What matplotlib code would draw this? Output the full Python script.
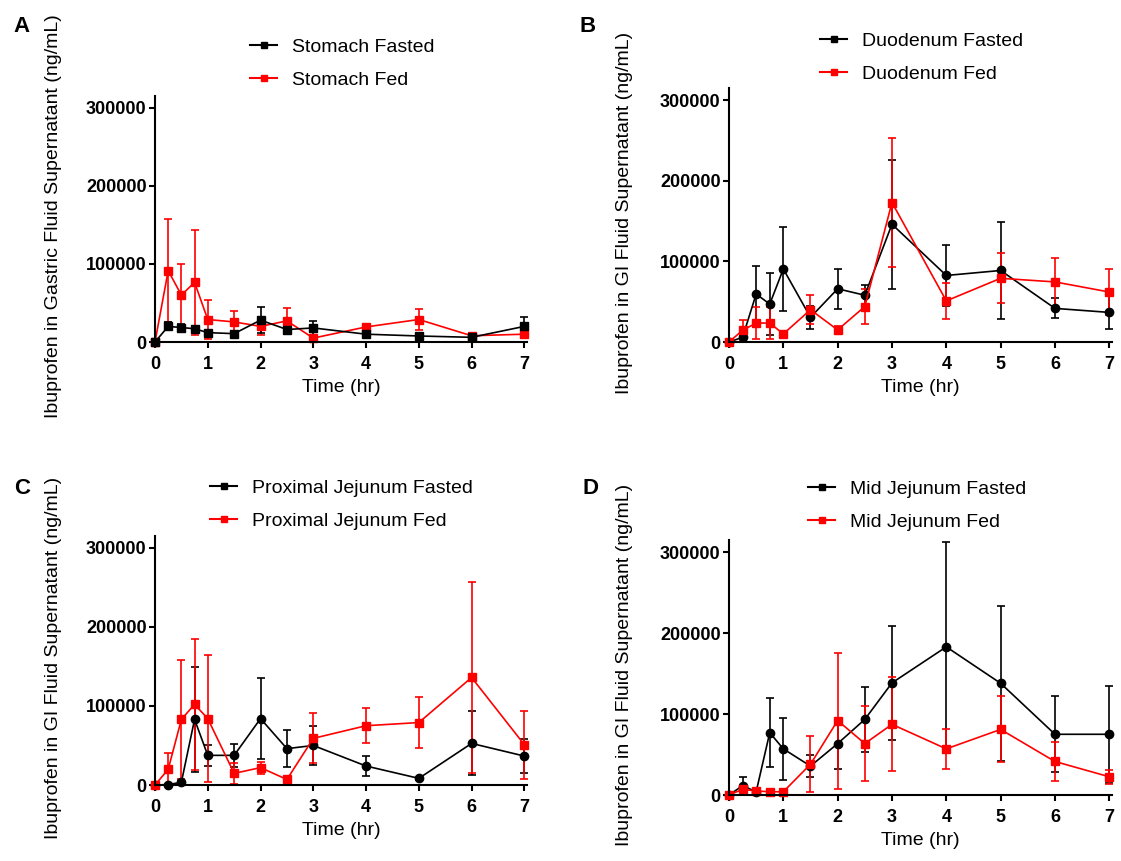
import numpy as np
import matplotlib.pyplot as plt
from matplotlib.lines import Line2D

# sampling times (hr)
times = [0, 0.25, 0.5, 0.75, 1, 1.5, 2, 2.5, 3, 4, 5, 6, 7]

# A - stomach
stomach_fasted = [0, 20000, 18500, 17000, 12000, 10700, 28000, 16000, 18000, 10000, 7700, 6000, 20000]
stomach_fasted_sd = [0, 5000, 4000, 4000, 3000, 2500, 17000, 5000, 9000, 3000, 2000, 2000, 12000]
stomach_fed = [0, 91400, 60000, 76400, 28800, 25700, 20000, 27000, 5000, 19300, 28800, 8000, 10000]
stomach_fed_sd = [0, 66000, 39600, 67400, 25200, 14300, 11400, 16800, 3000, 4300, 13700, 3000, 5000]

# B - duodenum
duod_fasted = [0, 5800, 59500, 47000, 90500, 30600, 66000, 58000, 146000, 82500, 88700, 41700, 36700]
duod_fasted_sd = [0, 2000, 34500, 38500, 51500, 14000, 25000, 13000, 80000, 37500, 60300, 12300, 20700]
duod_fed = [0, 14500, 23500, 23500, 10000, 40000, 15000, 44000, 173000, 51000, 79000, 74500, 62000]
duod_fed_sd = [0, 12500, 20000, 20000, 3000, 18000, 5000, 22000, 79500, 22500, 31000, 29500, 29000]

# C - proximal jejunum
pj_fasted = [0, 500, 3500, 83000, 37500, 37500, 84000, 46000, 50000, 24000, 8400, 52600, 36600]
pj_fasted_sd = [0, 300, 1000, 66000, 13500, 14500, 51000, 23500, 24500, 12800, 1500, 40500, 21500]
pj_fed = [0, 19800, 83000, 102000, 84000, 14700, 22000, 7000, 59000, 75000, 79000, 136000, 51000]
pj_fed_sd = [0, 20200, 75000, 83000, 80000, 13000, 7500, 2000, 31500, 22000, 32500, 121000, 43000]

# D - mid jejunum
mj_fasted = [0, 11500, 4000, 77000, 57000, 35700, 63500, 93400, 138500, 183000, 138000, 75000, 75000]
mj_fasted_sd = [0, 11000, 2000, 43000, 38000, 14000, 31000, 40600, 70000, 129000, 96000, 46700, 60000]
mj_fed = [0, 7000, 5000, 4000, 4000, 38000, 92000, 63500, 87300, 57000, 81000, 41400, 22500]
mj_fed_sd = [0, 5000, 2000, 1500, 1500, 34500, 84000, 46500, 58200, 25000, 40700, 24200, 9000]

y_ticks = [0, 100000, 200000, 300000]
x_ticks = [0, 1, 2, 3, 4, 5, 6, 7]

plt.rcParams['font.family'] = ['Liberation Sans', 'DejaVu Sans']

W, H = 1121, 861
fig = plt.figure(figsize=(W / 100, H / 100), dpi=100)


def px_rect(left, right, top, bottom):
    return [left / W, 1 - bottom / H, (right - left) / W, (bottom - top) / H]


panels = [
    # letter, axes box (px), letter pos, ylabel, series, legend pos (px), legend order
    ('A', px_rect(155, 527, 96, 342), (22, 26), 'Ibuprofen in Gastric Fluid Supernatant (ng/mL)',
     [('Stomach Fed', stomach_fed, stomach_fed_sd, 'red', 's'),
      ('Stomach Fasted', stomach_fasted, stomach_fasted_sd, 'black', 's')],
     (250, 38), [1, 0]),
    ('B', px_rect(729, 1112, 88, 342), (588, 27), 'Ibuprofen in GI Fluid Supernatant (ng/mL)',
     [('Duodenum Fasted', duod_fasted, duod_fasted_sd, 'black', 'o'),
      ('Duodenum Fed', duod_fed, duod_fed_sd, 'red', 's')],
     (820, 32), [0, 1]),
    ('C', px_rect(155, 527, 536, 785), (22, 488), 'Ibuprofen in GI Fluid Supernatant (ng/mL)',
     [('Proximal Jejunum Fasted', pj_fasted, pj_fasted_sd, 'black', 'o'),
      ('Proximal Jejunum Fed', pj_fed, pj_fed_sd, 'red', 's')],
     (210, 479), [0, 1]),
    ('D', px_rect(729, 1112, 540, 795), (590, 488), 'Ibuprofen in GI Fluid Supernatant (ng/mL)',
     [('Mid Jejunum Fasted', mj_fasted, mj_fasted_sd, 'black', 'o'),
      ('Mid Jejunum Fed', mj_fed, mj_fed_sd, 'red', 's')],
     (808, 480), [0, 1]),
]

for letter, rect, letter_pos, ylab, series, leg_pos, order in panels:
    ax = fig.add_axes(rect)
    proxies = []
    for name, mean, sd, color, marker in series:
        mean = np.array(mean, dtype=float)
        sd = np.array(sd, dtype=float)
        lower = np.minimum(sd, mean)
        ax.errorbar(times, mean, yerr=[lower, sd], color=color, marker=marker,
                    markersize=6, linewidth=1.2, elinewidth=1.2, capsize=3,
                    capthick=1.2, clip_on=False)
        proxies.append(Line2D([], [], color=color, marker='s', markersize=5,
                              linewidth=1.5, label=name))
    ax.set_xlim(0, 7.05)
    ax.set_ylim(0, 315000)
    ax.set_xticks(x_ticks)
    ax.set_yticks(y_ticks)
    ax.set_yticklabels([str(v) for v in y_ticks])
    for lbl in ax.get_xticklabels() + ax.get_yticklabels():
        lbl.set_fontweight('bold')
        lbl.set_fontsize(13)
    ax.spines['top'].set_visible(False)
    ax.spines['right'].set_visible(False)
    ax.spines['left'].set_linewidth(1.5)
    ax.spines['bottom'].set_linewidth(1.5)
    ax.tick_params(width=1.5, length=4)
    ax.tick_params(axis='y', pad=2)
    ax.tick_params(axis='x', pad=6)
    ax.set_xlabel('Time (hr)', fontsize=14, labelpad=4.5)
    ax.set_ylabel(ylab, fontsize=14)
    ax.yaxis.set_label_coords(-0.25, 0.51)
    fig.legend(handles=[proxies[i] for i in order], loc='upper left',
               bbox_to_anchor=(leg_pos[0] / W, 1 - leg_pos[1] / H),
               frameon=False, fontsize=14, handlelength=1.4, handletextpad=0.75,
               labelspacing=0.8, borderpad=0, borderaxespad=0)
    fig.text(letter_pos[0] / W, 1 - letter_pos[1] / H, letter, fontsize=16,
             fontweight='bold', ha='center', va='center')

fig.savefig('out.png', dpi=100, facecolor='white')
